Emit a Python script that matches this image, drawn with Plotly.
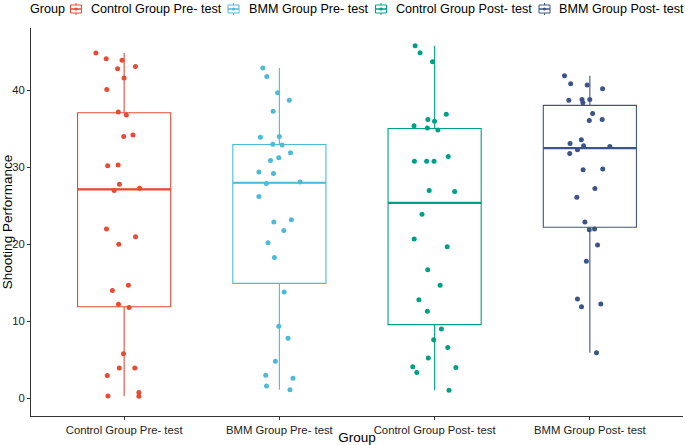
import numpy as np
import plotly.graph_objects as go

categories = ["Control Group Pre- test", "BMM Group Pre- test",
              "Control Group Post- test", "BMM Group Post- test"]

control_pre = [44.85, 43.9, 44.1, 43.1, 42.8, 41.6, 40.1, 37.2, 36.8, 34.2,
               34.0, 30.3, 30.2, 27.3, 27.8, 27.0, 22.0, 21.0, 20.0, 14.7,
               14.0, 12.2, 11.8, 5.8, 3.95, 3.95, 2.95, 0.74, 0.26, 0.3]
bmm_pre = [42.9, 41.8, 39.7, 38.7, 37.3, 34.0, 33.9, 33.0, 32.9, 31.9,
           31.25, 30.9, 29.4, 29.2, 27.9, 28.1, 26.2, 23.2, 22.9, 21.8,
           20.2, 18.3, 13.8, 9.35, 7.8, 4.8, 3.0, 2.6, 1.6, 1.1]
control_post = [45.8, 44.9, 43.7, 36.9, 36.0, 36.2, 35.1, 35.4, 34.85, 31.4,
                30.8, 30.8, 30.8, 27.0, 26.85, 23.9, 20.7, 19.7, 16.7, 14.7,
                12.8, 11.3, 9.0, 7.6, 6.6, 5.25, 4.1, 4.0, 3.35, 1.04]
bmm_post = [41.9, 40.85, 40.7, 40.2, 38.8, 38.4, 38.7, 38.8, 37.0, 36.2,
            36.1, 33.6, 33.1, 32.7, 32.8, 32.3, 31.8, 29.8, 29.7, 27.25,
            26.1, 22.9, 22.0, 21.9, 19.9, 17.8, 12.9, 12.25, 11.9, 5.9]

series = [control_pre, bmm_pre, control_post, bmm_post]
colors = ["#E64B35", "#4DBBD5", "#00A087", "#3C5488"]
legend_title = "Group"

W, H = 685, 445
M_L, M_R, M_T, M_B = 31, 2, 28, 29
PW, PH = W - M_L - M_R, H - M_T - M_B

def px_x(px):
    return (px - M_L) / PW

def px_y(py):
    return (H - M_B - py) / PH

def box_stats(vals):
    a = np.asarray(vals, dtype=float)
    q1, med, q3 = np.percentile(a, [25, 50, 75])
    iqr = q3 - q1
    lf = a[a >= q1 - 1.5 * iqr].min()
    uf = a[a <= q3 + 1.5 * iqr].max()
    return q1, med, q3, lf, uf

fig = go.Figure()
# boxes (ggplot-style quartiles), median drawn thicker like ggplot
for cat, vals, col in zip(categories, series, colors):
    q1, med, q3, lf, uf = box_stats(vals)
    fig.add_trace(go.Box(
        x=[cat], q1=[q1], median=[med], q3=[q3], lowerfence=[lf], upperfence=[uf],
        width=0.6, line=dict(color=col, width=1.1),
        fillcolor="rgba(255,255,255,0)", whiskerwidth=0,
        boxpoints=False, showlegend=False, hoverinfo="skip",
    ))
    fig.add_trace(go.Box(
        x=[cat], q1=[med], median=[med], q3=[med], lowerfence=[med], upperfence=[med],
        width=0.6, line=dict(color=col, width=2.2),
        fillcolor="rgba(255,255,255,0)", whiskerwidth=0,
        boxpoints=False, showlegend=False, hoverinfo="skip",
    ))
# jittered points
for cat, vals, col in zip(categories, series, colors):
    fig.add_trace(go.Box(
        x=[cat] * len(vals), y=vals, name=cat,
        boxpoints="all", jitter=0.65, pointpos=0, width=0.6,
        line=dict(color="rgba(0,0,0,0)", width=0),
        fillcolor="rgba(0,0,0,0)",
        marker=dict(color=col, size=5),
        whiskerwidth=0, showlegend=False,
    ))

font_family = "Liberation Sans, Arial, sans-serif"

# manual ggplot-style legend (title, key glyphs, labels)
legend_y = 9
legend_font = dict(size=12.6, color="#000000")
annotations = [dict(text=legend_title, x=px_x(28), y=px_y(legend_y), xref="paper", yref="paper",
                    xanchor="left", yanchor="middle", showarrow=False, font=legend_font)]
shapes = []
icon_centers = [76, 233.5, 381, 544.5]
text_starts = [89, 247, 394, 557]
for cat, col, cx, tx in zip(categories, colors, icon_centers, text_starts):
    annotations.append(dict(text=cat, x=px_x(tx), y=px_y(legend_y), xref="paper", yref="paper",
                            xanchor="left", yanchor="middle", showarrow=False, font=legend_font))
    shapes.append(dict(type="line", xref="paper", yref="paper",
                       x0=px_x(cx), x1=px_x(cx), y0=px_y(legend_y - 6), y1=px_y(legend_y + 6),
                       line=dict(color=col, width=1)))
    shapes.append(dict(type="rect", xref="paper", yref="paper",
                       x0=px_x(cx - 5.5), x1=px_x(cx + 5.5), y0=px_y(legend_y - 4), y1=px_y(legend_y + 4),
                       line=dict(color=col, width=1), fillcolor="white"))
    shapes.append(dict(type="line", xref="paper", yref="paper",
                       x0=px_x(cx - 5.5), x1=px_x(cx + 5.5), y0=px_y(legend_y), y1=px_y(legend_y),
                       line=dict(color=col, width=1.5)))
    shapes.append(dict(type="circle", xref="paper", yref="paper",
                       x0=px_x(cx - 1.6), x1=px_x(cx + 1.6), y0=px_y(legend_y - 1.6), y1=px_y(legend_y + 1.6),
                       line=dict(color=col, width=0), fillcolor=col))

fig.update_layout(
    width=W, height=H,
    margin=dict(l=M_L, r=M_R, t=M_T, b=M_B, autoexpand=False),
    paper_bgcolor="white", plot_bgcolor="white",
    font=dict(family=font_family, color="#000000", size=12),
    boxmode="overlay",
    showlegend=False,
    annotations=annotations,
    shapes=shapes,
    xaxis=dict(
        type="category", categoryorder="array", categoryarray=categories,
        range=[-0.6, 3.6], showline=True, linecolor="#333333", linewidth=1,
        ticks="outside", ticklen=3, tickcolor="#333333",
        tickfont=dict(size=11.3, color="#222222"),
        title=dict(text="Group", font=dict(size=13.5), standoff=0),
        showgrid=False, zeroline=False, automargin=False,
    ),
    yaxis=dict(
        range=[-2.3, 48.1], tickvals=[0, 10, 20, 30, 40],
        showline=True, linecolor="#333333", linewidth=1,
        ticks="outside", ticklen=3, tickcolor="#333333",
        tickfont=dict(size=11.3, color="#222222"),
        title=dict(text="Shooting Performance", font=dict(size=13.5), standoff=3),
        showgrid=False, zeroline=False, automargin=False,
    ),
)

fig.write_html("out.html", config={"displayModeBar": False},
               post_script="document.body.style.margin='0';document.body.style.overflow='hidden';")
